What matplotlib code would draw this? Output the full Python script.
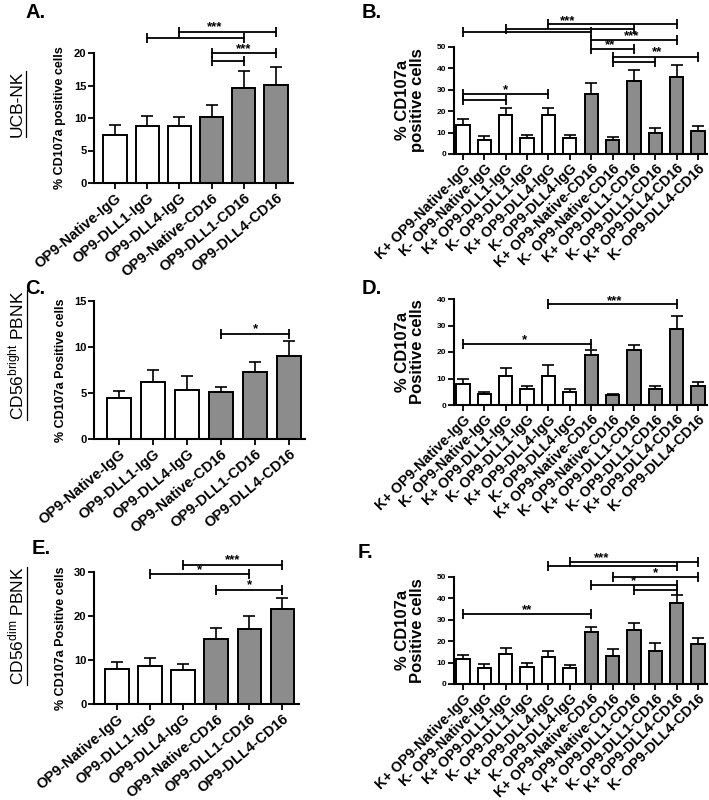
import matplotlib

matplotlib.use("Agg")
import matplotlib.pyplot as plt
import numpy as np

plt.rcParams["font.family"] = ["Liberation Sans", "DejaVu Sans"]
plt.rcParams["mathtext.default"] = "regular"

W, H = 709, 800

GROUPS6 = ["OP9-Native-IgG", "OP9-DLL1-IgG", "OP9-DLL4-IgG",
           "OP9-Native-CD16", "OP9-DLL1-CD16", "OP9-DLL4-CD16"]
GROUPS12 = []
for g in GROUPS6:
    GROUPS12 += [f"K+ {g}", f"K- {g}"]

# panel A - UCB-NK
a_mean = [7.4, 8.7, 8.7, 10.2, 14.6, 15.1]
a_err = [1.5, 1.6, 1.5, 1.8, 2.6, 2.7]
# panel B
b_mean = [13.7, 6.6, 18.2, 7.5, 18.2, 7.5, 28.0, 6.5, 34.2, 9.9, 36.0, 10.5]
b_err = [2.4, 1.6, 3.4, 1.4, 3.4, 1.4, 5.1, 1.5, 5.0, 2.3, 5.6, 2.4]
# panel C - CD56bright PBNK
c_mean = [4.4, 6.2, 5.3, 5.05, 7.25, 8.95]
c_err = [0.8, 1.3, 1.5, 0.6, 1.1, 1.7]
# panel D
d_mean = [8.0, 4.3, 11.0, 6.0, 11.0, 5.0, 18.8, 3.8, 20.8, 6.0, 28.5, 7.2]
d_err = [1.8, 0.7, 3.0, 1.1, 4.2, 1.2, 2.0, 0.5, 1.8, 1.1, 4.9, 1.3]
# panel E - CD56dim PBNK
e_mean = [7.95, 8.7, 7.8, 14.7, 17.0, 21.5]
e_err = [1.5, 1.7, 1.4, 2.6, 3.1, 2.5]
# panel F
f_mean = [11.8, 7.6, 14.2, 8.1, 12.4, 7.3, 24.4, 13.2, 25.2, 15.5, 37.9, 18.6]
f_err = [1.9, 1.6, 2.6, 1.8, 3.0, 1.6, 2.3, 3.0, 3.0, 3.5, 3.8, 2.7]

# significance brackets: (from bar, to bar, level)
a_brackets = [(1, 4, 22.3), (2, 5, 23.2), (3, 5, 20.0), (3, 4, 18.8)]
a_stars = [(3.1, 24.0, "***"), (4.0, 20.6, "***")]
b_brackets = [(0, 6, 56.8), (2, 8, 58.1), (4, 10, 60.6), (6, 10, 53.1),
              (6, 8, 48.8), (7, 11, 45.3), (7, 9, 43.0), (0, 4, 27.8), (0, 2, 25.2)]
b_stars = [(4.9, 62.0, "***"), (7.9, 55.0, "***"), (6.9, 50.9, "**"),
           (9.1, 47.4, "**"), (2.0, 29.6, "*")]
c_brackets = [(3, 5, 11.4)]
c_stars = [(4.0, 11.9, "*")]
d_brackets = [(4, 10, 38.0), (0, 6, 23.2)]
d_stars = [(7.1, 39.3, "***"), (2.9, 24.6, "*")]
e_brackets = [(2, 5, 31.7), (1, 4, 29.5), (3, 5, 25.9)]
e_stars = [(3.5, 32.7, "***"), (2.5, 30.5, "*"), (4.0, 27.0, "*")]
f_brackets = [(5, 11, 57.0), (4, 10, 55.0), (7, 11, 49.7), (6, 10, 46.1),
              (8, 10, 43.8), (0, 6, 32.6)]
f_stars = [(6.5, 58.8, "***"), (9.0, 51.5, "*"), (8.0, 48.0, "*"), (3.0, 34.4, "**")]

WHITE, GREY = "white", "#8c8c8c"


def px_axes(fig, l, r, t, b):
    return fig.add_axes([l / W, 1 - b / H, (r - l) / W, (b - t) / H])


def bar_panel(ax, labels, mean, err, brackets, stars, ylim, yticks, xlim,
              width, ylabel, label_x, ylab_size, tick_size, xlab_size, rot):
    n = len(mean)
    x = np.arange(n)
    half = n // 2
    colors = [WHITE] * half + [GREY] * half
    ax.bar(x, mean, width=width, color=colors, edgecolor="black", linewidth=1.4,
           zorder=2)
    ax.errorbar(x, mean, yerr=[np.zeros(n), err], fmt="none", ecolor="black",
                elinewidth=1.2, capsize=4, capthick=1.2, zorder=1)
    for i, j, lev in brackets:
        ax.plot([i, j], [lev, lev], color="black", lw=1.3, marker="|",
                markersize=7, markeredgewidth=1.3, clip_on=False, zorder=3)
    for sx, sy, s in stars:
        ax.text(sx, sy, s, ha="center", va="center", fontsize=9.5,
                fontweight="bold", clip_on=False)
    ax.set_ylim(*ylim)
    ax.set_xlim(*xlim)
    ax.set_yticks(yticks)
    ax.set_xticks(x)
    ax.set_xticklabels(labels, rotation=rot, ha="right", va="top",
                       rotation_mode="anchor", fontsize=xlab_size,
                       fontweight="bold")
    for t in ax.get_yticklabels():
        t.set_fontsize(tick_size)
        t.set_fontweight("bold")
    ax.set_ylabel(ylabel, fontsize=ylab_size, fontweight="bold",
                  linespacing=1.0)
    ax.yaxis.set_label_coords(label_x, 0.5)
    for side in ["top", "right"]:
        ax.spines[side].set_visible(False)
    for side in ["left", "bottom"]:
        ax.spines[side].set_linewidth(1.5)
    ax.tick_params(direction="out", length=4, width=1.3, pad=1.5)


fig = plt.figure(figsize=(W / 100, H / 100), dpi=100)

ax_a = px_axes(fig, 94, 293, 53, 183)
bar_panel(ax_a, GROUPS6, a_mean, a_err, a_brackets, a_stars, (0, 20),
          [0, 5, 10, 15, 20], (-0.65, 5.53), 0.72,
          "% CD107a positive cells", -0.14, 9, 8, 10.5, 40)

ax_b = px_axes(fig, 454, 707, 46.7, 154)
bar_panel(ax_b, GROUPS12, b_mean, b_err, b_brackets, b_stars, (0, 50),
          [0, 10, 20, 30, 40, 50], (-0.42, 11.42), 0.62,
          "% CD107a\npositive cells", -0.115, 12, 6, 10.3, 45)

ax_c = px_axes(fig, 94, 305, 300.7, 439)
bar_panel(ax_c, GROUPS6, c_mean, c_err, c_brackets, c_stars, (0, 15),
          [0, 5, 10, 15], (-0.74, 5.47), 0.72,
          "% CD107a Positive cells", -0.13, 9, 8, 10.5, 40)

ax_d = px_axes(fig, 454, 707, 299, 405)
bar_panel(ax_d, GROUPS12, d_mean, d_err, d_brackets, d_stars, (0, 40),
          [0, 10, 20, 30, 40], (-0.42, 11.42), 0.62,
          "% CD107a\nPositive cells", -0.115, 12, 6, 10.3, 45)

ax_e = px_axes(fig, 94, 299, 572, 704)
bar_panel(ax_e, GROUPS6, e_mean, e_err, e_brackets, e_stars, (0, 30),
          [0, 10, 20, 30], (-0.7, 5.5), 0.72,
          "% CD107a Positive cells", -0.13, 9, 8, 10.5, 40)

ax_f = px_axes(fig, 454, 707, 576.7, 684)
bar_panel(ax_f, GROUPS12, f_mean, f_err, f_brackets, f_stars, (0, 50),
          [0, 10, 20, 30, 40, 50], (-0.42, 11.42), 0.62,
          "% CD107a\nPositive cells", -0.115, 12, 6, 10.3, 45)

# panel letters
for letter, px, py in [("A.", 25, 12), ("B.", 362, 12), ("C.", 25, 288),
                       ("D.", 362, 288), ("E.", 32, 549), ("F.", 358, 553)]:
    fig.text(px / W, 1 - py / H, letter, fontsize=14.5, fontweight="bold",
             va="center", ha="left")

# row labels, underlined
row_labels = [("UCB-NK", 17, 104), ("CD56$^{bright}$ PBNK", 16, 355),
              ("CD56$^{dim}$ PBNK", 16, 626)]
fig.canvas.draw()
renderer = fig.canvas.get_renderer()
for txt, px, py in row_labels:
    t = fig.text(px / W, 1 - py / H, txt, rotation=90, fontsize=12.5,
                 ha="center", va="center")
    bb = t.get_window_extent(renderer)
    ux = (bb.x1 + 1.5) / W
    fig.add_artist(plt.Line2D([ux, ux], [bb.y0 / H, bb.y1 / H],
                              transform=fig.transFigure, color="black", lw=0.9))

fig.savefig("out.png", dpi=100)
